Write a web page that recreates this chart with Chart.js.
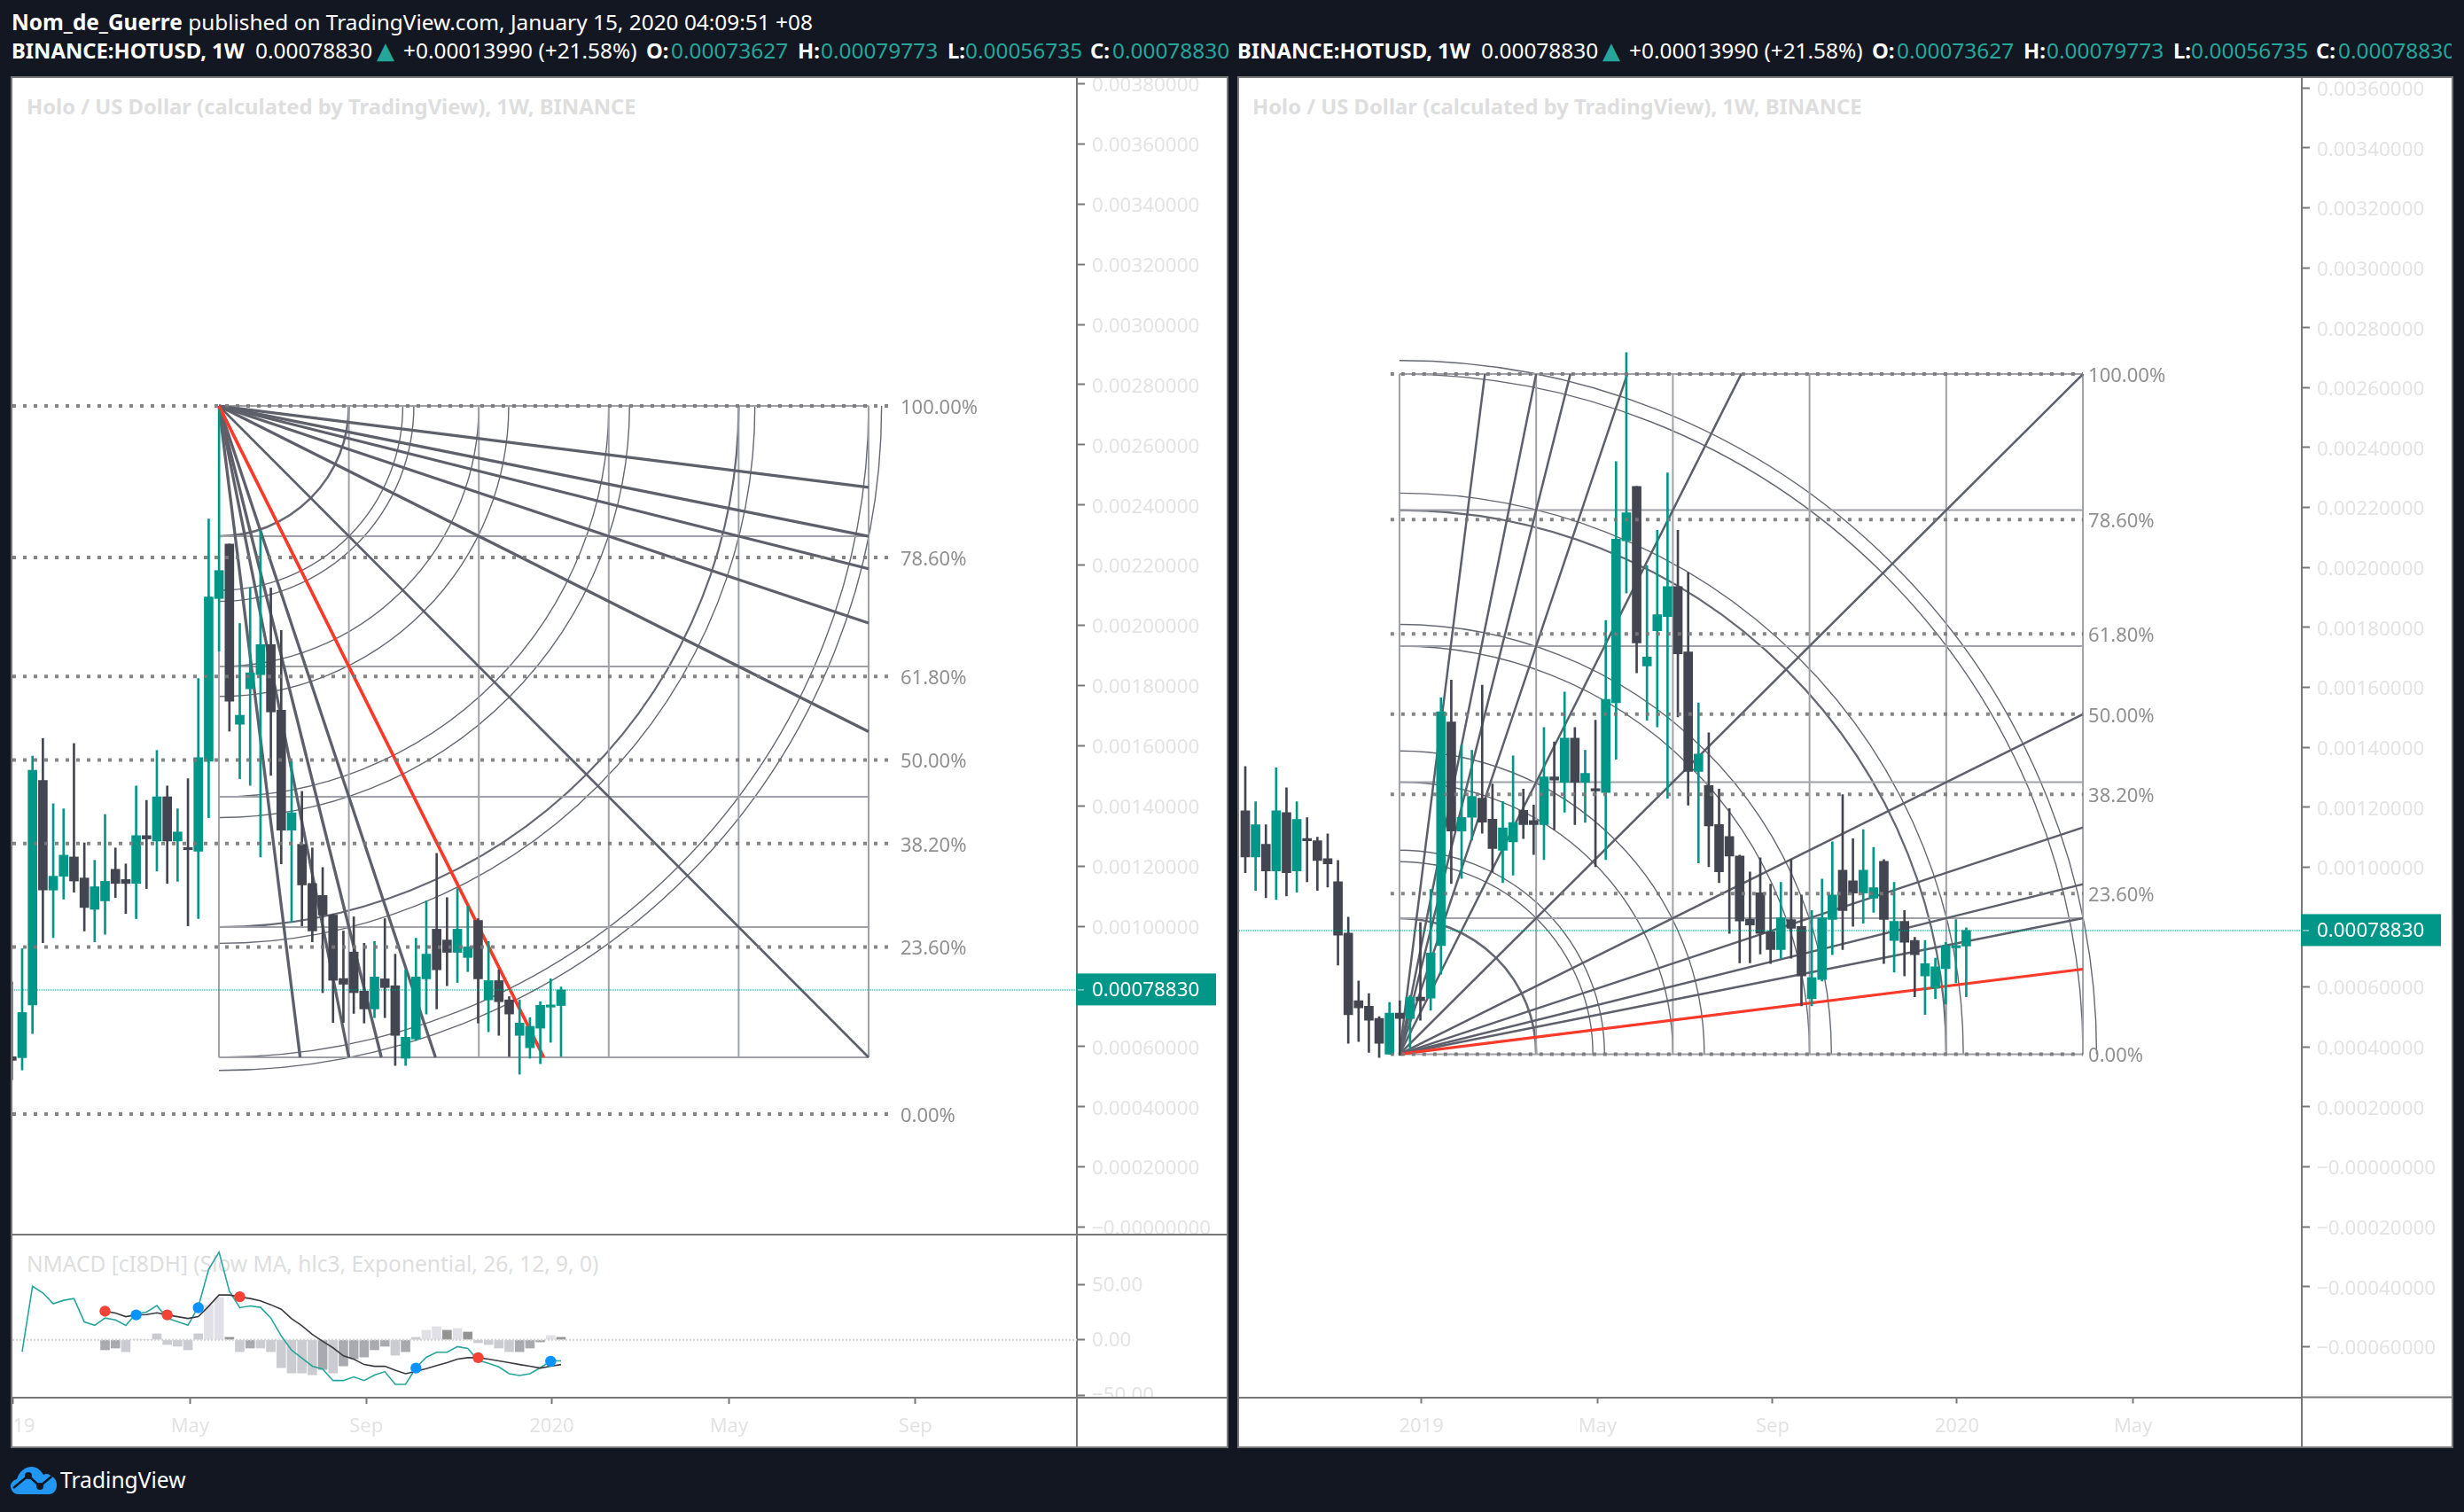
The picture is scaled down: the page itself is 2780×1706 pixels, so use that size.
<!DOCTYPE html>
<html><head><meta charset="utf-8">
<script src="https://cdn.jsdelivr.net/npm/chart.js@4"></script>
<style>
html,body{margin:0;padding:0;background:#131722;width:2780px;height:1706px;overflow:hidden;font-family:'Noto Sans','Open Sans',sans-serif}
.abs{position:absolute}
.pane{position:absolute;box-sizing:border-box;border:2px solid #787878;background:#fff}
canvas{position:absolute}
.row{position:absolute;top:40px;height:34px;overflow:hidden;white-space:nowrap;color:#fff;font-size:24.4px;line-height:34px}
.row span{position:absolute;top:0}
.row b{font-weight:700;font-size:23.8px}
.g{color:#26a69a}
.tri{color:#26a69a;font-family:'DejaVu Sans';font-size:26px;position:static !important}
.title{position:absolute;color:#dedede;white-space:nowrap;line-height:30px}
</style></head><body>
<div class="abs" style="left:13px;top:8px;color:#fff;font-size:24.4px;line-height:34px;white-space:nowrap" id="pub"><b>Nom_de_Guerre</b> published on TradingView.com, January 15, 2020 04:09:51 +08</div>
<div class="row" id="rowL" style="left:0;width:1388px"></div>
<div class="row" id="rowR" style="left:1388px;width:1378px"></div>
<div class="pane" style="left:12px;top:86px;width:1374px;height:1548px"></div>
<div class="pane" style="left:1396px;top:86px;width:1372px;height:1548px"></div>
<div class="abs" style="left:14px;top:1392px;width:1370px;height:2px;background:#787878"></div>
<div class="title" style="left:30px;top:105px;font-size:23.8px;font-weight:700">Holo / US Dollar (calculated by TradingView), 1W, BINANCE</div>
<div class="title" style="left:1413px;top:105px;font-size:23.8px;font-weight:700">Holo / US Dollar (calculated by TradingView), 1W, BINANCE</div>
<div class="title" style="left:30px;top:1411px;font-size:24.5px">NMACD [cI8DH] (Slow MA, hlc3, Exponential, 26, 12, 9, 0)</div>
<canvas id="cL" width="1370" height="1304" style="left:14px;top:88px"></canvas>
<canvas id="cI" width="1370" height="238" style="left:14px;top:1394px"></canvas>
<canvas id="cR" width="1368" height="1544" style="left:1398px;top:88px"></canvas>
<svg class="abs" style="left:12px;top:1654px" width="54" height="33" viewBox="0 0 54 33">
<path fill="#2196f3" d="M9 32 C3 32 0 27 0 23 C0 19 3 16 7 15 C10 6 16 1 24 1 C30 1 34 5 37 10 C40 8 44 9 46 12 C50 13 52 17 52 22 C52 28 48 32 43 32 Z"/>
<polyline points="3,25 20,11 33,23 46,12" fill="none" stroke="#131722" stroke-width="2.5"/>
<circle cx="20" cy="11" r="4" fill="#131722"/><circle cx="33" cy="23" r="4" fill="#131722"/>
</svg>
<div class="abs" style="left:68px;top:1652px;color:#fff;font-size:24.6px;line-height:36px">TradingView</div>
<script>
/* ---- weekly candles of BINANCE:HOTUSD ---- */
const opens=[0.001188,0.001034,0.001076,0.000987,0.001182,0.000987,0.001094,0.001088,0.001028,0.000951,0.000780,0.000554,0.000536,0.000495,0.000376,0.000513,0.000495,0.000566,
0.000563,0.000738,0.001484,0.001120,0.001166,0.001230,0.001160,0.001056,0.001084,0.001189,0.001155,0.001142,0.001301,0.001283,0.001430,0.001283,0.001260,0.001249,0.001548,0.002089,0.002270,0.001671,0.001789,0.001836,0.001936,0.001718,0.001319,0.001272,0.001142,0.001102,0.001037,0.000826,0.000914,0.000784,0.000725,0.000825,0.000802,0.000561,0.000625,0.000825,0.000990,0.000954,0.000913,0.000896,0.001019,0.000755,0.000819,0.000755,0.000637,0.000596,0.000661,0.000731,0.00073627];
const highs=[0.001336,0.001218,0.001141,0.001331,0.001265,0.001218,0.001165,0.001100,0.001111,0.001022,0.000833,0.000620,0.000578,0.000501,0.000548,0.000554,0.000572,0.000815,
0.000925,0.001565,0.001624,0.001407,0.001390,0.001607,0.001277,0.001219,0.001371,0.001260,0.001207,0.001466,0.001418,0.001584,0.001466,0.001390,0.001490,0.001823,0.002353,0.002717,0.002270,0.002006,0.002124,0.002315,0.002124,0.001983,0.001548,0.001448,0.001260,0.001195,0.001040,0.000984,0.001031,0.000943,0.000949,0.001025,0.000907,0.000855,0.000960,0.001084,0.001242,0.001095,0.001125,0.001066,0.001025,0.000949,0.000855,0.000766,0.000755,0.000696,0.000749,0.000825,0.00079773];
const lows=[0.000981,0.000922,0.000898,0.000892,0.000904,0.000916,0.000951,0.000922,0.000933,0.000673,0.000412,0.000418,0.000382,0.000365,0.000376,0.000371,0.000394,0.000489,
0.000522,0.000643,0.000945,0.000962,0.001090,0.001113,0.000984,0.000948,0.000973,0.001095,0.001042,0.001025,0.001125,0.001183,0.001142,0.001149,0.001001,0.001025,0.001360,0.001914,0.001648,0.001490,0.001468,0.001230,0.001501,0.001207,0.001014,0.001001,0.000948,0.000779,0.000680,0.000680,0.000710,0.000678,0.000696,0.000696,0.000537,0.000537,0.000620,0.000708,0.000725,0.000802,0.000813,0.000849,0.000678,0.000649,0.000637,0.000567,0.000508,0.000561,0.000543,0.000614,0.00056735];
const closes=[0.001034,0.001141,0.000987,0.001188,0.000981,0.001159,0.001088,0.001022,0.001011,0.000773,0.000507,0.000530,0.000489,0.000412,0.000513,0.000495,0.000566,0.000554,
0.000713,0.001518,0.001120,0.001166,0.001236,0.001150,0.001062,0.001131,0.001149,0.001142,0.001142,0.001301,0.001290,0.001430,0.001283,0.001313,0.001254,0.001560,0.002094,0.002182,0.001748,0.001701,0.001842,0.001936,0.001712,0.001319,0.001377,0.001137,0.000984,0.001037,0.000820,0.000807,0.000779,0.000725,0.000831,0.000796,0.000637,0.000631,0.000831,0.000907,0.000855,0.000913,0.000990,0.000931,0.000825,0.000819,0.000749,0.000708,0.000678,0.000667,0.000737,0.000737,0.00078830];
const lastPrice=0.00078830;
/* ---- indicator, one value per week from week index 18 on ---- */
const macdLine=[-10.8,48.3,42.4,32.5,35.7,37.3,16.1,13.1,19.6,18.0,12.9,23.6,25.0,30.9,19.6,16.4,13.1,29.8,63.9,79.3,43.8,29.0,30.6,29.3,19.6,3.5,-9.4,-16.7,-23.9,-26.6,-36.9,-36.9,-33.6,-36.9,-32.0,-28.8,-40.4,-40.4,-25.3,-15.9,-11.3,-11.3,-6.2,-7.8,-18.6,-21.3,-24.5,-30.7,-32.3,-30.7,-25.3,-19.1,-19.1];
const signalLine=[null,null,null,null,null,null,null,null,25.8,24.2,20.9,22.5,22.8,24.4,22.5,20.9,19.3,20.9,30.3,40.5,40.5,38.7,37.3,35.2,31.7,27.6,19.0,12.6,4.8,-1.4,-7.3,-14.6,-17.5,-22.4,-24.0,-24.0,-27.5,-30.7,-28.5,-26.1,-23.4,-20.7,-17.5,-16.2,-16.2,-17.5,-19.1,-20.7,-22.4,-24.0,-25.6,-24.0,-22.4];
const histogram=[null,null,null,null,null,null,null,null,-9.1,-7.5,-10.8,0.6,0,5.4,-4.3,-5.9,-9.1,5.4,31.4,38.2,2.2,-10.8,-7.5,-7.5,-10.8,-25.3,-30.1,-30.1,-31.7,-26.9,-30.1,-23.7,-17.2,-15.6,-9.1,-5.9,-14.0,-10.8,2.2,8.6,11.8,8.6,10.2,7.0,-2.7,-4.3,-7.5,-10.8,-10.8,-7.5,-2.0,3.8,2.2];
const histShade=[0,0,0,0,0,0,0,0,2,2,1,0,0,1,1,1,1,1,0,0,3,1,2,1,1,1,1,1,1,2,1,2,2,2,2,2,1,2,1,0,0,3,0,3,1,1,1,1,2,2,2,0,3];
const histColors=['#e0e0e6','#cbcbd2','#a9a9b0','#939393'];
const crossWeeks=[8,11,14,17,21,38,44,51];
const crossValues=[25.8,22.5,22.5,29.0,38.9,-25.6,-16.2,-19.4];
const crossColors=['#f44336','#0a93ff','#f44336','#0a93ff','#f44336','#0a93ff','#f44336','#0a93ff'];
/* ---- axes ---- */
const priceTicks=[-0.0006,-0.0004,-0.0002,0,0.0002,0.0004,0.0006,0.0008,0.0010,0.0012,0.0014,0.0016,0.0018,0.0020,0.0022,0.0024,0.0026,0.0028,0.0030,0.0032,0.0034,0.0036,0.0038];
const macdTicks=[50,0,-50];
const timeTicks=[17.1,34.2,51.2,69.1,86.2,104.2];
const timeLabels=['2019','May','Sep','2020','May','Sep'];
/* ---- drawing tools ---- */
const fibRatios=[1,0.786,0.618,0.5,0.382,0.236,0];
const fibLabels=['100.00%','78.60%','61.80%','50.00%','38.20%','23.60%','0.00%'];
const fanRatios=[0.125,0.2,0.25,1/3,0.5];
const arcRadii=[0.2,0.283,0.3,0.4,0.446,0.6,0.632,0.8,0.825,1,1.02];
const arcWidths=[2.6,1.4,1.4,1.4,1.4,1.4,1.4,2.2,1.4,1.4,1.4];
const gridSteps=[0,0.2,0.4,0.6,0.8,1];

const FONT="'Noto Sans','Open Sans',sans-serif";
Chart.defaults.font.family=FONT;
const AX='#787878',TICKTXT='#e3e3e3',TEAL='#009688',DARK='#434651',RED='#f93a2a',FAN='#5d606b',GRID='#a0a1a8',ARC='#666873';

function line(pts,color,w,order,dash){return {type:'line',data:pts,borderColor:color,borderWidth:w,pointRadius:0,order:order,borderDash:dash||[],tension:0,fill:false,spanGaps:false,borderCapStyle:'butt'};}
function fmtPrice(v){const s=Math.abs(v).toFixed(8);return (v<=0?'\u2212':'')+s;}
function noPad(s){s.paddingTop=0;s.paddingBottom=0;s.paddingLeft=0;s.paddingRight=0;}

function overlay(c){return {id:'overlay',
 beforeDatasetsDraw(ch){ if(!c.gann)return;
  const g=c.gann,x=ch.scales.x,y=ch.scales.y,ctx=ch.ctx;
  const cx=x.getPixelForValue(g.x0),rx=x.getPixelForValue(g.x1)-cx;
  const cy=y.getPixelForValue(g.origin),ry=Math.abs(y.getPixelForValue(g.far)-cy);
  const a=g.far>g.origin?-Math.PI/2:0,b=g.far>g.origin?0:Math.PI/2;
  ctx.save();ctx.beginPath();ctx.rect(ch.chartArea.left,ch.chartArea.top,ch.chartArea.width,ch.chartArea.height);ctx.clip();
  ctx.strokeStyle=ARC;
  arcRadii.forEach((r,i)=>{ctx.lineWidth=arcWidths[i];ctx.beginPath();ctx.ellipse(cx,cy,rx*r,ry*r,0,a,b);ctx.stroke();});
  ctx.restore();
 },
 afterDraw(ch){
  const ctx=ch.ctx,x=ch.scales.x,y=ch.scales.y,A=ch.chartArea;
  ctx.save();
  if(c.bottomAxis){
   ctx.fillStyle='#fff';ctx.fillRect(A.right+1,A.bottom+1,ch.width-A.right,ch.height-A.bottom);
   ctx.strokeStyle=AX;ctx.lineWidth=2;
   ctx.beginPath();ctx.moveTo(A.right,A.bottom);ctx.lineTo(A.right,ch.height);ctx.moveTo(A.right,A.bottom);ctx.lineTo(ch.width,A.bottom);ctx.stroke();
  }
  if(c.fib){
   ctx.fillStyle='#909090';ctx.font="22px "+FONT;ctx.textAlign='left';ctx.textBaseline='middle';
   const lx=x.getPixelForValue(c.fib.x1)+c.fib.labelGap;
   fibRatios.forEach((r,i)=>{ctx.fillText(fibLabels[i],lx,y.getPixelForValue(c.fib.p0+(c.fib.p1-c.fib.p0)*r)+2.5);});
  }
  if(c.last){
   const py=y.getPixelForValue(lastPrice);
   ctx.fillStyle=TEAL;ctx.fillRect(A.right-1,py-18.5,158,36);
   ctx.strokeStyle='rgba(255,255,255,.55)';ctx.lineWidth=1.5;ctx.beginPath();ctx.moveTo(A.right+1,py);ctx.lineTo(A.right+8,py);ctx.stroke();
   ctx.fillStyle='#fff';ctx.font="22.4px "+FONT;ctx.textAlign='left';ctx.textBaseline='middle';
   ctx.fillText(lastPrice.toFixed(8),A.right+17,py+0.5);
  }
  ctx.restore();
 }};}

function xScale(min,max,showLabels,axisH){return {type:'linear',min,max,offset:false,display:showLabels,
 grid:{drawOnChartArea:false,drawTicks:true,tickLength:7,tickWidth:2,tickColor:AX,offset:false},
 border:{color:AX,width:2},
 afterBuildTicks(s){s.ticks=timeTicks.filter(v=>v>=min&&v<=max).map(v=>({value:v}));},
 afterFit(s){if(axisH)s.height=axisH;noPad(s);},
 ticks:{autoSkip:false,maxRotation:0,minRotation:0,padding:13,color:TICKTXT,font:{size:22},
   callback(v){return timeLabels[timeTicks.indexOf(v)];}}};}
function yScale(min,max,list,fmt,w,lo){return {type:'linear',position:'right',min,max,
 grid:{drawOnChartArea:false,drawTicks:true,tickLength:9,tickWidth:2,tickColor:AX},
 border:{color:AX,width:2},
 afterBuildTicks(s){s.ticks=list.filter(v=>v>=min&&v<=max).map(v=>({value:v}));},
 afterFit(s){s.width=w;noPad(s);},
 ticks:{autoSkip:false,padding:8,labelOffset:lo,color:TICKTXT,font:{size:22.4},callback:fmt}};}
const baseOpts={responsive:false,maintainAspectRatio:false,devicePixelRatio:1,animation:false,events:[],
 layout:{padding:0,autoPadding:false},plugins:{legend:{display:false},tooltip:{enabled:false},title:{display:false}}};

function candleSets(from){
 const idx=opens.map((_,i)=>i).filter(i=>i>=from);
 const col=idx.map(i=>closes[i]>=opens[i]?TEAL:DARK);
 return [
  {type:'bar',data:idx.map(i=>({x:i,y:[lows[i],highs[i]]})),backgroundColor:col,barThickness:2,grouped:false,order:3,borderWidth:0},
  {type:'bar',data:idx.map(i=>({x:i,y:[opens[i],closes[i]]})),backgroundColor:col,barThickness:10,minBarLength:2.5,grouped:false,order:2,borderWidth:0}
 ];
}
function gannSets(g,fanW,redW,redOnFar){
 const out=[],ext=(a,b,t)=>a+(b-a)*t;
 gridSteps.forEach(t=>{
  out.push(line([{x:ext(g.x0,g.x1,t),y:g.origin},{x:ext(g.x0,g.x1,t),y:g.far}],GRID,2,40));
  out.push(line([{x:g.x0,y:ext(g.origin,g.far,t)},{x:g.x1,y:ext(g.origin,g.far,t)}],GRID,2,40));
 });
 fanRatios.forEach((r,i)=>{
  const redA=redOnFar&&i===4, redB=!redOnFar&&i===0;
  out.push(line([{x:g.x0,y:g.origin},{x:g.x1,y:ext(g.origin,g.far,r)}],redB?RED:FAN,redB?redW:fanW,redB?35:36));
  out.push(line([{x:g.x0,y:g.origin},{x:ext(g.x0,g.x1,r),y:g.far}],redA?RED:FAN,redA?redW:fanW,redA?35:36));
 });
 out.push(line([{x:g.x0,y:g.origin},{x:g.x1,y:g.far}],FAN,2.6,36));
 return out;
}
function fibSets(f){return fibRatios.map(r=>{const p=f.p0+(f.p1-f.p0)*r;
 return line([{x:f.x0,y:p},{x:f.x1,y:p}],'rgba(120,120,120,.9)',4,1,[4,8]);});}
function lastLine(a,b){return line([{x:a,y:lastPrice},{x:b,y:lastPrice}],'rgba(0,150,136,.5)',2,0,[1,1]);}

/* left main pane */
const Lx=[17.06,119.78];
const gannL={x0:36.99,x1:99.68,origin:0.002729,far:0.0005641};
const fibL={x0:17.06,x1:101.56,p0:0.0003756,p1:0.002729,labelGap:14};
new Chart(document.getElementById('cL'),{type:'bar',
 data:{datasets:[...gannSets(gannL,3.3,3.8,true),...candleSets(17),...fibSets(fibL),lastLine(Lx[0],Lx[1])]},
 options:{...baseOpts,scales:{x:xScale(Lx[0],Lx[1],false),y:yScale(-0.0000221,0.0038189,priceTicks,fmtPrice,169,2.5)}},
 plugins:[overlay({gann:gannL,fib:fibL,last:true})]});

/* left indicator pane */
const wk=i=>18+i;
const toXY=a=>a.map((v,i)=>({x:wk(i),y:v}));
new Chart(document.getElementById('cI'),{type:'bar',
 data:{datasets:[
  {type:'bar',data:toXY(histogram),backgroundColor:histShade.map(s=>histColors[s]),barThickness:10,grouped:false,order:5,borderWidth:0},
  line([{x:Lx[0],y:0},{x:Lx[1],y:0}],'#d4d4d4',2,4,[2,2]),
  line(toXY(macdLine),'#26a69a',1.6,3),
  line(toXY(signalLine),'#3a3a42',1.6,2),
  {type:'line',data:crossWeeks.map((w,i)=>({x:wk(w),y:crossValues[i]})),showLine:false,pointRadius:6.2,pointBorderWidth:0,pointBackgroundColor:crossColors,order:1}
 ]},
 options:{...baseOpts,scales:{x:xScale(Lx[0],Lx[1],true,55),
  y:yScale(-52.4,94.35,macdTicks,v=>(v<0?'\u2212':'')+Math.abs(v).toFixed(2),169,1)}},
 plugins:[overlay({bottomAxis:true})]});

/* right pane */
const Rx=[-0.602,102.58];
const gannR={x0:14.97,x1:81.33,origin:0.0003757,far:0.002645};
const fibR={x0:14.1,x1:81.33,p0:0.0003757,p1:0.002645,labelGap:6};
new Chart(document.getElementById('cR'),{type:'bar',
 data:{datasets:[...gannSets(gannR,2.5,3.2,false),...candleSets(0),...fibSets(fibR),lastLine(Rx[0],Rx[1])]},
 options:{...baseOpts,scales:{x:xScale(Rx[0],Rx[1],true,55.5),y:yScale(-0.000769,0.0036331,priceTicks,fmtPrice,169,2.5)}},
 plugins:[overlay({gann:gannR,fib:fibR,last:true,bottomAxis:true})]});

/* header strip */
const headerItems=[
 [13,'<b>BINANCE:HOTUSD, 1W</b>'],[288,'0.00078830'],[425,'<span class="tri">\u25B2</span>'],[455,'+0.00013990 (+21.58%)'],
 [729,'<b>O:</b>'],[757,'<span class="g" style="position:static">0.00073627</span>'],
 [900,'<b>H:</b>'],[926,'<span class="g" style="position:static">0.00079773</span>'],
 [1069,'<b>L:</b>'],[1089,'<span class="g" style="position:static">0.00056735</span>'],
 [1230,'<b>C:</b>'],[1255,'<span class="g" style="position:static">0.00078830</span>']];
['rowL','rowR'].forEach((id,k)=>{const el=document.getElementById(id);
 el.innerHTML=headerItems.map(h=>'<span style="left:'+(h[0]-(k?5:0))+'px">'+h[1]+'</span>').join('');});
</script>
</body></html>
